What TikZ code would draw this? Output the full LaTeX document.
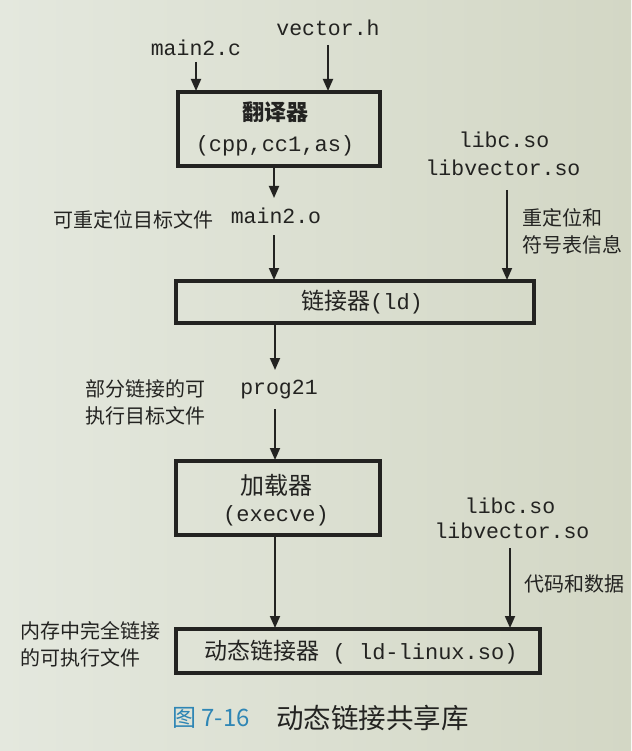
\documentclass[tikz,border=0pt]{standalone}
\usepackage{fontspec}
\setmonofont{Liberation Mono}
\newfontfamily\cjk{Noto Sans CJK SC}
\usetikzlibrary{arrows.meta}

\definecolor{ink}{HTML}{232321}
\definecolor{paperL}{HTML}{E4E8DE}
\definecolor{paperR}{HTML}{D3D7C5}
\definecolor{figblue}{HTML}{2F86B5}

\tikzset{
  stage/.style={draw=ink, line width=3.2pt, inner sep=0pt},
  flow/.style={draw=ink, line width=1.8pt, -{Triangle[length=12pt,width=10pt]}},
  file/.style={font=\ttfamily\fontsize{21.5}{24}\selectfont, text=ink, inner sep=1pt},
  note/.style={font=\cjk\fontsize{20}{27}\selectfont, text=ink, align=left, inner sep=0pt},
  boxtxt/.style={text=ink, inner sep=0pt, align=center},
}

\begin{document}
\begin{tikzpicture}[x=1pt,y=-1pt]
  % paper
  \shade[left color=paperL, right color=paperR] (0,0) rectangle (631,751);
  \useasboundingbox (0,0) rectangle (631,751);

  % input files
  \node[file] (mainc) at (196,48) {main2.c};
  \node[file] (vech)  at (328,28) {vector.h};

  % translator
  \node[stage, minimum width=202pt, minimum height=74pt] (trans) at (279,129) {};
  \node[boxtxt, font=\cjk\bfseries\fontsize{22}{24}\selectfont] (transA) at (275,112) {翻译器};
  \node[boxtxt, font=\ttfamily\fontsize{22}{24}\selectfont] (transB) at (275,146) {(cpp,cc1,as)};
  \coordinate (transInL) at (196,91);
  \coordinate (transInR) at (328,91);
  \draw[flow] (mainc.south |- 0,62) -- (transInL);
  \draw[flow] (vech.south |- 0,45) -- (transInR);

  % relocatable object
  \node[file] (maino) at (276,216) {main2.o};
  \node[note, anchor=east] (relo) at (214,220) {可重定位目标文件};
  \coordinate (transOut) at (274,167);
  \coordinate (mainoTop) at (274,198);
  \draw[flow] (transOut) -- (mainoTop);

  % shared libs for link step
  \node[file] (libc1) at (504,140) {libc.so};
  \node[file] (libv1) at (503,168) {libvector.so};
  \node[note, anchor=west] (relinfo) at (522,231) {重定位和\\符号表信息};

  % linker
  \node[stage, minimum width=358pt, minimum height=42pt] (ld) at (355,302) {};
  \node[boxtxt] (ldtxt) at (362,302) {{\cjk\fontsize{23}{24}\selectfont 链接器}{\ttfamily\fontsize{22}{24}\selectfont (ld)}};
  \coordinate (ldInL) at (274,280);
  \coordinate (ldInR) at (507,280);
  \coordinate (mainoBot) at (274,235);
  \draw[flow] (mainoBot) -- (ldInL);
  \draw[flow] (507,190) -- (ldInR);

  % partially linked executable
  \node[file] (prog) at (279,390) {prog21};
  \node[note, anchor=east] (partial) at (206,402) {部分链接的可\\执行目标文件};
  \coordinate (ldOut) at (275,324);
  \coordinate (progTop) at (275,370);
  \draw[flow] (ldOut) -- (progTop);

  % loader
  \node[stage, minimum width=204pt, minimum height=74pt] (load) at (278,498) {};
  \node[boxtxt, font=\cjk\fontsize{24}{24}\selectfont] (loadA) at (276,485) {加载器};
  \node[boxtxt, font=\ttfamily\fontsize{22}{24}\selectfont] (loadB) at (276,516) {(execve)};
  \coordinate (progBot) at (275,409);
  \coordinate (loadIn) at (275,460);
  \draw[flow] (progBot) -- (loadIn);

  % shared libs for run time
  \node[file] (libc2) at (510,506) {libc.so};
  \node[file] (libv2) at (512,531) {libvector.so};
  \node[note, anchor=west] (codedata) at (524,584) {代码和数据};

  % dynamic linker
  \node[stage, minimum width=364pt, minimum height=44pt] (dyn) at (358,651) {};
  \node[boxtxt] (dyntxt) at (361,652) {{\cjk\fontsize{23}{24}\selectfont 动态链接器}{\ttfamily\fontsize{22}{24}\selectfont\ ( ld-linux.so)}};
  \node[note, anchor=west] (fullexe) at (20,644) {内存中完全链接\\的可执行文件};
  \coordinate (loadOut) at (275,536);
  \coordinate (dynInL) at (275,628);
  \coordinate (dynInR) at (510,628);
  \draw[flow] (loadOut) -- (dynInL);
  \draw[flow] (510,548) -- (dynInR);

  % caption
  \node[anchor=west, inner sep=0pt, text=figblue, font=\cjk\fontsize{24}{26}\selectfont] (capnum) at (172,718) {图 7-16};
  \node[anchor=west, inner sep=0pt, text=ink, font=\cjk\fontsize{27.5}{28}\selectfont] (captxt) at (276,718) {动态链接共享库};
\end{tikzpicture}
\end{document}
